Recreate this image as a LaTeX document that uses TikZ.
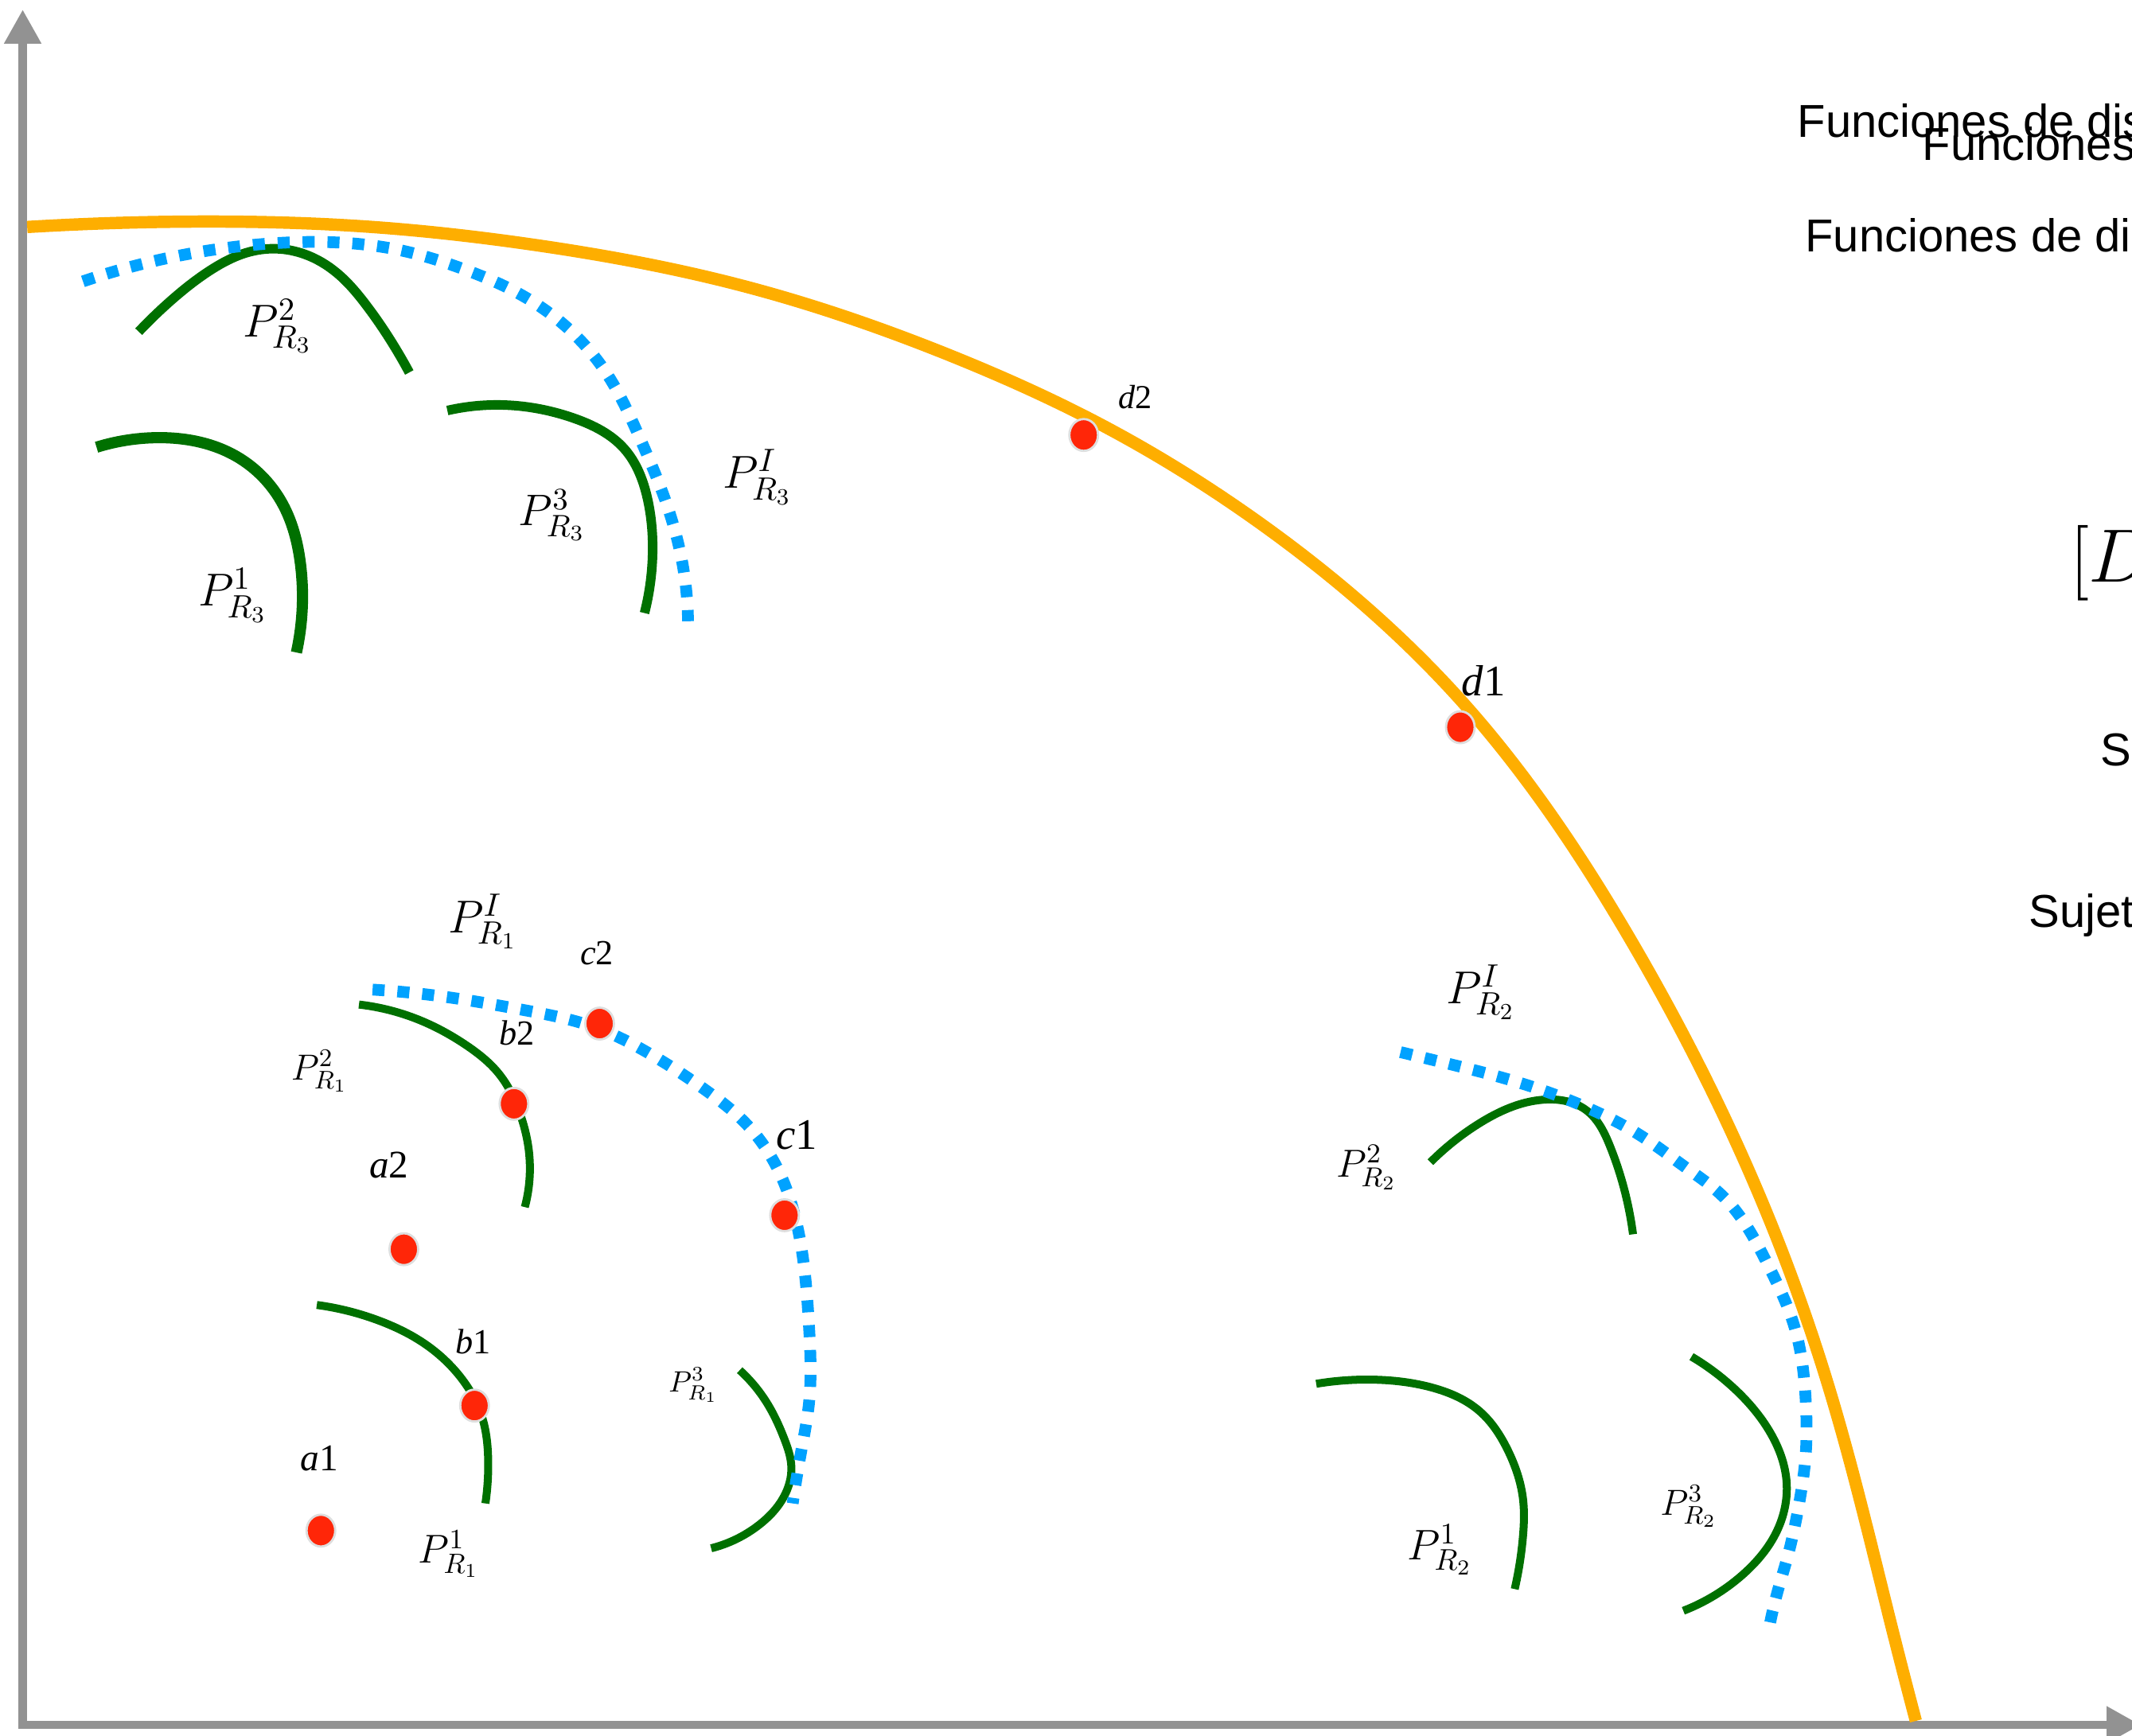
\RequirePackage{fix-cm}
\documentclass[tikz,border=0pt]{standalone}
\usepackage{fontspec}
\usetikzlibrary{arrows.meta,shapes.geometric,hobby}
\newfontfamily\timesfont{Liberation Serif}
\newfontfamily\arialfont{Liberation Sans}
\definecolor{axisgray}{RGB}{146,146,146}
\definecolor{frontorange}{RGB}{254,174,0}
\definecolor{paretogreen}{RGB}{0,112,0}
\definecolor{idealblue}{RGB}{0,162,255}
\definecolor{solred}{RGB}{255,38,8}
\definecolor{dotrim}{RGB}{222,222,222}
\tikzset{
  axisline/.style={line width=3.1pt, draw=axisgray, -{Triangle[length=12.2pt,width=12.5pt]}},
  frontline/.style={line width=4.4pt, draw=frontorange, use Hobby shortcut},
  paretoline/.style={line width=2.85pt, draw=paretogreen, use Hobby shortcut},
  idealline/.style={line width=4.2pt, draw=idealblue, dash pattern=on 4.3pt off 4.6pt, use Hobby shortcut},
  soldot/.style={ellipse, fill=solred, draw=dotrim, line width=0.8pt, minimum width=0.36cm, minimum height=0.40cm, inner sep=0pt},
  ptlab/.style={inner sep=0pt, font=\timesfont\fontsize{#1}{#1}\selectfont},
  plab/.style={inner sep=0pt, font=\fontsize{#1}{#1}\selectfont},
  edgetxt/.style={inner sep=0pt, anchor=base west, font=\arialfont\fontsize{16.5}{20}\selectfont},
}
\begin{document}
\begin{tikzpicture}[x=0.017086cm, y=-0.017086cm]
\useasboundingbox (0,0) rectangle (1568,1277);
% axes
\coordinate (O) at (16.7,1268.9);
\coordinate (ytip) at (16.7,7);
\coordinate (xtip) at (1574.4,1268.9);
\coordinate (Ocorner) at (16.7,1272);
\draw[axisline] (Ocorner) -- (ytip);
\draw[axisline] (O) -- (xtip);
% pareto front (orange)
\draw[frontline] (20,167) .. (145,163) .. (274,167) .. (392,180) .. (549,211) .. (700,262) .. (809,312) .. (931,388) .. (1076,517) .. (1199,691) .. (1300,894) .. (1346,1024) .. (1392,1200) .. (1409,1266);
% R3 group
\draw[paretoline, line width=3.4pt] (102,244) .. (127,220) .. (156,198) .. (181,186) .. (203,183) .. (224,187) .. (248,201) .. (269,224) .. (287,250) .. (301,274);
\draw[paretoline, line width=3.4pt] (329,302) .. (372,298) .. (423,308) .. (459,330) .. (476,366) .. (480,404) .. (474,451);
\draw[paretoline, line width=4pt] (71,329) .. (114,322) .. (176,337) .. (208,371) .. (221,415) .. (218,480);
\draw[idealline] (61,207) .. (118,191) .. (188,180) .. (235,178) .. (294,184) .. (341,198) .. (376,213) .. (416,240) .. (447,276) .. (470,321) .. (490,370) .. (502,415) .. (506,457);
% R1 group
\draw[paretoline] (264,739) .. (310,751) .. (343,769) .. (367,790) .. (382,818) .. (389,847) .. (386,888);
\draw[paretoline] (233,960) .. (280,972) .. (313,989) .. (337,1011) .. (355,1044) .. (359,1073) .. (357,1106);
\draw[paretoline] (544,1008) .. (564,1032) .. (577,1059) .. (582,1079) .. (576,1102) .. (558,1122) .. (523,1139);
\draw[idealline] (274,728) .. (325,733) .. (385,743) .. (441,757) .. (474,773) .. (519,802) .. (549,827) .. (573,862) .. (588,910) .. (595,976) .. (595,1032) .. (589,1069) .. (583,1106);
% R2 group
\draw[paretoline] (1052,855) .. (1087,827) .. (1135,809) .. (1167,817) .. (1184,843) .. (1201,908);
\draw[paretoline] (968,1018) .. (1012,1015) .. (1054,1021) .. (1088,1038) .. (1109,1067) .. (1120,1102) .. (1120,1131) .. (1114,1169);
\draw[paretoline] (1244,998) .. (1276,1022) .. (1302,1054) .. (1314,1091) .. (1307,1126) .. (1281,1159) .. (1238,1185);
\draw[idealline] (1030,774) .. (1063,782) .. (1102,792) .. (1140,804) .. (1172,817) .. (1206,835) .. (1240,859) .. (1267,880) .. (1300,930) .. (1320,977) .. (1328,1030) .. (1328,1070) .. (1323,1107) .. (1315,1144) .. (1307,1172) .. (1301,1198);
% solution points
\node[soldot] (a1) at (236,1126) {};
\node[soldot] (a2) at (297,919) {};
\node[soldot] (b1) at (349,1034) {};
\node[soldot] (b2) at (378,812) {};
\node[soldot] (c2) at (441,753) {};
\node[soldot] (c1) at (577,894) {};
\node[soldot] (d2) at (797,320) {};
\node[soldot] (d1) at (1074,535) {};
% point labels
\node[ptlab=13.5] (a1lab) at (235,1073) {\textit{a}1};
\node[ptlab=14] (a2lab) at (286,857) {\textit{a}2};
\node[ptlab=12.6] (b1lab) at (348,987) {\textit{b}1};
\node[ptlab=12.6] (b2lab) at (380,760) {\textit{b}2};
\node[ptlab=12.6] (c2lab) at (439,701) {\textit{c}2};
\node[ptlab=15.6] (c1lab) at (586,835) {\textit{c}1};
\node[ptlab=12] (d2lab) at (835,292) {\textit{d}2};
\node[ptlab=15.6] (d1lab) at (1091,501) {\textit{d}1};
% region labels
\node[plab=16.5] (pr3b) at (204,240) {$P^{2}_{R_3}$};
\node[plab=16.5] (pr3a) at (171,438) {$P^{1}_{R_3}$};
\node[plab=15.8] (pr3c) at (406,379) {$P^{3}_{R_3}$};
\node[plab=16.5] (pr3i) at (557,351) {$P^{I}_{R_3}$};
\node[plab=16.5] (pr1i) at (355,678) {$P^{I}_{R_1}$};
\node[plab=13] (pr1b) at (235,788) {$P^{2}_{R_1}$};
\node[plab=14.4] (pr1a) at (330,1143) {$P^{1}_{R_1}$};
\node[plab=10.5] (pr1c) at (510,1019) {$P^{3}_{R_1}$};
\node[plab=16.5] (pr2i) at (1089,730) {$P^{I}_{R_2}$};
\node[plab=14] (pr2b) at (1005,859) {$P^{2}_{R_2}$};
\node[plab=15.3] (pr2a) at (1059,1140) {$P^{1}_{R_2}$};
\node[plab=13] (pr2c) at (1242,1108) {$P^{3}_{R_2}$};
% texts cut by the right edge
\node[edgetxt] (fa) at (1321.5,100.7) {Funciones de dis};
\node[edgetxt] (fb) at (1413.4,118.2) {Funciones};
\node[edgetxt] (fc) at (1327.3,185) {Funciones de di};
\node[inner sep=0pt, anchor=base west, font=\fontsize{27}{32}\selectfont] (dbr) at (1522,428.4) {$[D$};
\node[edgetxt] (sa) at (1544.5,563.6) {S};
\node[edgetxt] (sb) at (1491.8,681.9) {Sujet};
\end{tikzpicture}
\end{document}
